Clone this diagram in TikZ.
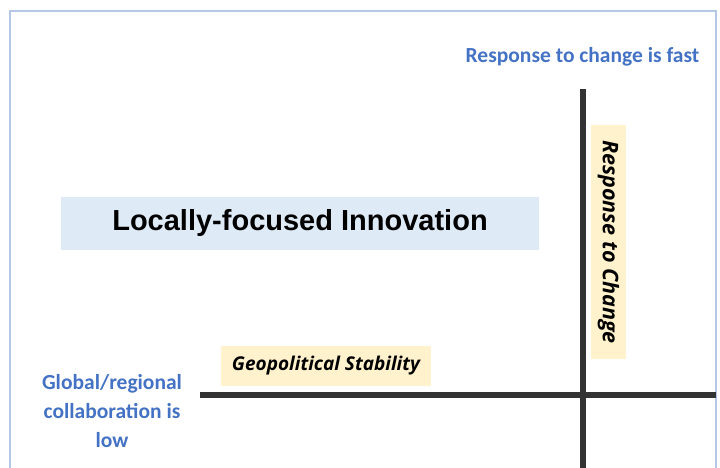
\documentclass[tikz,border=0pt]{standalone}
\usepackage{fontspec}
\usepackage{xcolor}
\usepackage{tikz}
\setmainfont{Carlito}
\newfontfamily\arialfont{Liberation Sans}
\newfontfamily\segoefont{Open Sans}

\definecolor{labelblue}{HTML}{4472C4}
\definecolor{frameblue}{HTML}{B4C7E7}
\definecolor{boxyellow}{HTML}{FFF2CC}
\definecolor{boxblue}{HTML}{DEEBF7}
\definecolor{axisgray}{HTML}{333333}

\tikzset{
  axisline/.style={line width=5.5pt, axisgray},
  endlabel/.style={font=\fontsize{21.5}{29}\selectfont\bfseries, text=labelblue, align=center},
  axislabel/.style={fill=boxyellow, inner sep=0pt, font=\segoefont\bfseries\itshape}
}

\begin{document}
\begin{tikzpicture}[x=1pt, y=-1pt]
        \useasboundingbox (0,0) rectangle (720,468);
        \clip (0,0) rectangle (720,468);

        % Outer frame (runs off the bottom)
        \draw[frameblue, line width=2.5pt] (10,475) -- (10,11) -- (716,11) -- (716,475);

        % Axes
        \coordinate (vtop) at (583,89);
        \coordinate (vbot) at (583,470);
        \coordinate (hleft) at (200,395);
        \coordinate (hright) at (716,395);
        \draw[axisline] (vtop) -- (vbot);
        \draw[axisline] (hleft) -- (hright);

        % Axis titles
        \node[axislabel, minimum width=210pt, minimum height=40pt] (geo) at (326,366) {\fontsize{19}{20}\selectfont Geopolitical Stability};
        \node[axislabel, rotate=-90, minimum width=234pt, minimum height=35pt] (resp) at (608.5,242) {\fontsize{21.5}{22}\selectfont Response to Change};

        % End labels
        \node[endlabel, anchor=base] (fast) at (582.5,63) {Response to change is fast};
        \node[endlabel, anchor=base] (low) at (112,447) {Global/regional\\collaboration is\\low};

        % Scenario name
        \node[fill=boxblue, inner sep=0pt, minimum width=478pt, minimum height=53pt,
              font=\arialfont\fontsize{29}{30}\selectfont\bfseries] (scen) at (300,223) {Locally-focused Innovation};
    \end{tikzpicture}
\end{document}
